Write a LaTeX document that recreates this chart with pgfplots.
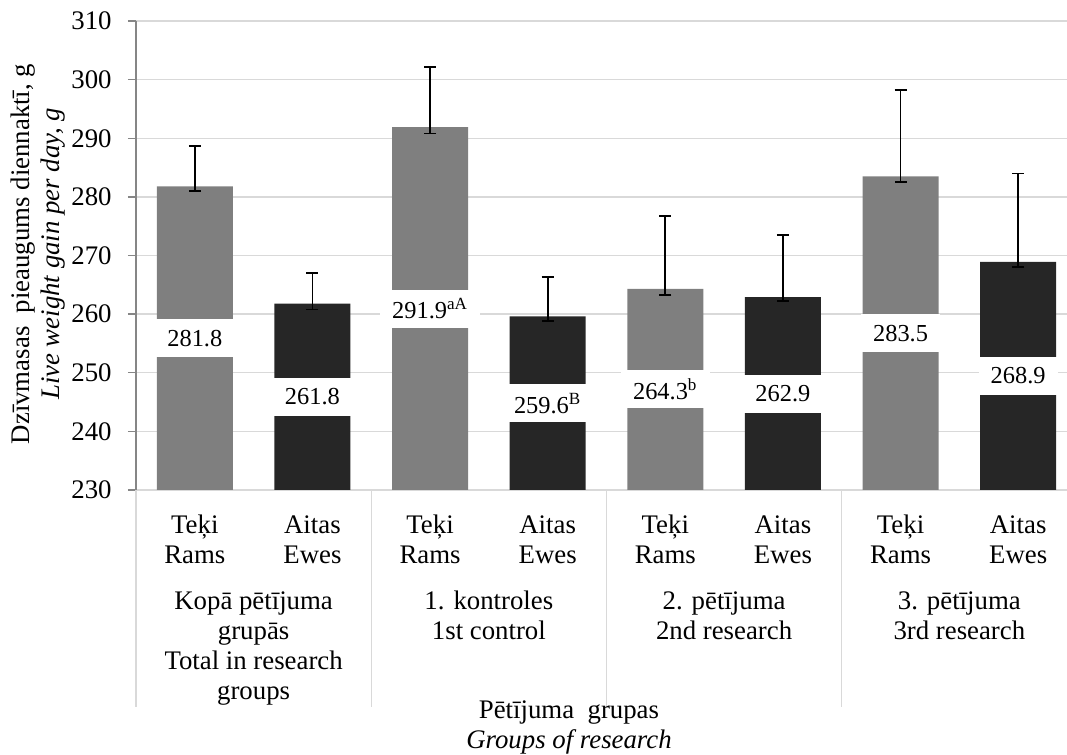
\documentclass[border=0pt]{standalone}
\usepackage{fontspec}
\setmainfont{Liberation Serif}
\usepackage{pgfplots}
\pgfplotsset{compat=1.18}
\definecolor{barA}{HTML}{7F7F7F}
\definecolor{barB}{HTML}{262626}
\definecolor{gridc}{HTML}{D9D9D9}
\definecolor{axc}{HTML}{868686}
\newcommand{\tl}[1]{\begin{tabular}[t]{@{}c@{}}#1\end{tabular}}
\begin{document}
\begin{tikzpicture}[font=\fontsize{13.4}{15}\selectfont]
\path[use as bounding box] (-68pt,-132.5pt) rectangle (465.5pt,245pt);
\begin{axis}[
  at={(0,0)}, anchor=south west,
  scale only axis, width=465.5pt, height=234.5pt,
  xmin=-0.5, xmax=7.415, ymin=230, ymax=310,
  ytick={230,240,...,310},
  xtick={0,...,7},
  xticklabels={{\tl{Teķi\\Rams}},{\tl{Aitas\\Ewes}},{\tl{Teķi\\Rams}},{\tl{Aitas\\Ewes}},{\tl{Teķi\\Rams}},{\tl{Aitas\\Ewes}},{\tl{Teķi\\Rams}},{\tl{Aitas\\Ewes}}},
  axis x line=bottom, axis y line=left, axis line style={-},
  x axis line style={gridc, line width=0.65pt},
  y axis line style={axc, line width=0.65pt},
  ymajorgrids, grid style={gridc, line width=0.65pt},
  tick align=outside,
  ytick style={axc, line width=0.65pt}, major tick length=4pt,
  xtick style={draw=none},
  /pgf/number format/assume math mode=true,
  yticklabel style={anchor=east, inner sep=0pt, xshift=-8pt},
  xticklabel style={anchor=base, inner sep=0pt, yshift=-18pt},
]
\addplot[ybar, bar width=0.646, bar shift=0, fill=barA, draw=none] coordinates {(0,281.8) (2,291.9) (4,264.3) (6,283.5)};
\addplot[ybar, bar width=0.646, bar shift=0, fill=barB, draw=none] coordinates {(1,261.8) (3,259.6) (5,262.9) (7,268.9)};
\addplot[draw=none, mark=none, forget plot,
  error bars/.cd, y dir=both, y explicit, error mark=|,
  error bar style={draw=black, line width=0.9pt},
  error mark options={draw=black, mark size=3pt, line width=0.9pt}]
  coordinates {
  (0,284.85) +- (0,3.85)
  (1,263.9) +- (0,3.1)
  (2,296.45) +- (0,5.65)
  (3,262.55) +- (0,3.75)
  (4,270.0) +- (0,6.8)
  (5,267.9) +- (0,5.6)
  (6,290.4) +- (0,7.8)
  (7,276.0) +- (0,8.0)
  };
\addplot[draw=none, mark=none, point meta=explicit symbolic,
  nodes near coords, nodes near coords align=center,
  every node near coord/.append style={fill=white, inner xsep=6pt, inner ysep=0pt, minimum width=38pt, minimum height=19pt, text=black, anchor=center, font=\fontsize{12.2}{14}\selectfont}]
  coordinates {
  (0,255.9) [281.8]
  (1,245.9) [261.8]
  (2,260.95) [291.9\textsuperscript{aA}]
  (3,244.8) [259.6\textsuperscript{B}]
  (4,247.15) [264.3\textsuperscript{b}]
  (5,246.45) [262.9]
  (6,256.75) [283.5]
  (7,249.45) [268.9]
  };
\coordinate (s0) at (axis cs:-0.5,230);
\coordinate (s1) at (axis cs:1.5,230);
\coordinate (s2) at (axis cs:3.5,230);
\coordinate (s3) at (axis cs:5.5,230);
\coordinate (g0) at (axis cs:0.5,230);
\coordinate (g1) at (axis cs:2.5,230);
\coordinate (g2) at (axis cs:4.5,230);
\coordinate (g3) at (axis cs:6.5,230);
\end{axis}
\foreach \s in {s0,s1,s2,s3} \draw[gridc, line width=0.65pt] (\s) -- ++(0,-108.5pt);
\node[anchor=base] at ([yshift=-60pt]g0) {\tl{Kopā pētījuma\\grupās\\Total in research\\groups}};
\node[anchor=base] at ([yshift=-60pt]g1) {\tl{1. kontroles\\1st control}};
\node[anchor=base] at ([yshift=-60pt]g2) {\tl{2. pētījuma\\2nd research}};
\node[anchor=base] at ([yshift=-60pt]g3) {\tl{3. pētījuma\\3rd research}};
\node[anchor=base] at (216.5pt,-114pt) {\tl{Pētījuma\ \ grupas\\\textit{Groups of research}}};
\node[rotate=90, anchor=base] at (-53pt,118pt) {\tl{Dzīvmasas\ \ pieaugums diennaktī, g\\\textit{Live weight gain per day, g}}};
\end{tikzpicture}
\end{document}
